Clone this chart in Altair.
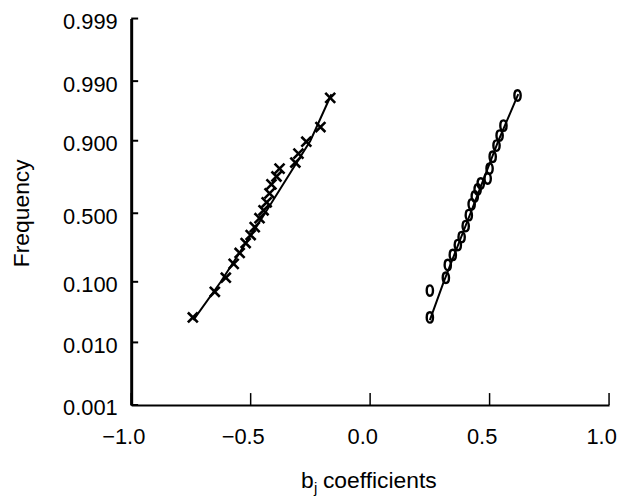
import altair as alt
import pandas as pd
from statistics import NormalDist

probit = NormalDist().inv_cdf

# ---- axis definitions -------------------------------------------------
tick_freq = [0.001, 0.010, 0.100, 0.500, 0.900, 0.990, 0.999]
tick_labels = ["0.001", "0.010", "0.100", "0.500", "0.900", "0.990", "0.999"]
tick_range = [389, 326, 265, 196, 123, 63, 0]   # probability-paper spacing of the ticks
x_ticks = [-1.0, -0.5, 0.0, 0.5, 1.0]
y_title = "Frequency"
x_title_parts = ["b", "j", "coefficients"]

# ---- data -------------------------------------------------------------
left_x = [-0.742, -0.650, -0.604, -0.571, -0.546, -0.521, -0.500, -0.483, -0.463, -0.446,
          -0.433, -0.421, -0.413, -0.392, -0.379, -0.313, -0.300, -0.267, -0.208, -0.167]
left_f = [0.029, 0.073, 0.114, 0.172, 0.229, 0.289, 0.342, 0.398, 0.463, 0.521,
          0.577, 0.637, 0.695, 0.742, 0.785, 0.815, 0.854, 0.897, 0.936, 0.979]

right_x = [0.250, 0.250, 0.317, 0.325, 0.346, 0.367, 0.383, 0.400, 0.413, 0.425,
           0.438, 0.450, 0.463, 0.492, 0.500, 0.513, 0.529, 0.542, 0.558, 0.617]
right_f = [0.029, 0.076, 0.114, 0.167, 0.218, 0.276, 0.328, 0.405, 0.486, 0.563,
           0.617, 0.663, 0.701, 0.730, 0.785, 0.841, 0.884, 0.915, 0.939, 0.981]

line_f = [0.026, 0.100, 0.500, 0.900, 0.982]
left_line_x = [-0.740, -0.625, -0.440, -0.250, -0.162]
right_line_x = [0.250, 0.308, 0.420, 0.537, 0.620]

# ---- tables -------------------------------------------------------------
left_pts = pd.DataFrame({"x": left_x, "z": [probit(f) for f in left_f]})
right_pts = pd.DataFrame({"x": right_x, "z": [probit(f) for f in right_f]})
left_line = pd.DataFrame({"x": left_line_x, "z": [probit(f) for f in line_f], "o": range(len(line_f))})
right_line = pd.DataFrame({"x": right_line_x, "z": [probit(f) for f in line_f], "o": range(len(line_f))})
ytick_df = pd.DataFrame({"z": [probit(f) for f in tick_freq]})
xtick_df = pd.DataFrame({"x": x_ticks})

zt = [probit(f) for f in tick_freq]
expr = ""
for i in range(len(zt) - 1):
    mid = (zt[i] + zt[i + 1]) / 2
    expr += f"datum.value < {mid:.4f} ? '{tick_labels[i]}' : "
expr += f"'{tick_labels[-1]}'"

FONT = "Liberation Sans"

xscale = alt.Scale(domain=[-1.0, 1.0], nice=False, zero=False)
yscale = alt.Scale(domain=zt, range=tick_range, nice=False, zero=False)

xaxis = alt.Axis(values=x_ticks, format=".1f", ticks=False, grid=False,
                 domainColor="black", domainWidth=2.2, labelColor="black",
                 labelFont=FONT, labelFontSize=22, labelPadding=22, labelOffset=-8,
                 labelFlush=False, labelOverlap=False)
yaxis = alt.Axis(values=zt, labelExpr=expr, ticks=False, grid=False,
                 domainColor="black", domainWidth=3, labelColor="black",
                 labelFont=FONT, labelFontSize=22, labelPadding=14, labelOffset=3,
                 labelFlush=False, labelOverlap=False)

X = alt.X("x:Q", scale=xscale, axis=xaxis, title=None)
Y = alt.Y("z:Q", scale=yscale, axis=yaxis, title=None)

lines = [
    alt.Chart(df).mark_line(color="black", strokeWidth=2).encode(x=X, y=Y, order="o:Q")
    for df in (left_line, right_line)
]

x_pts = alt.Chart(left_pts).mark_point(
    shape="M-1,-1L1,1M-1,1L1,-1", filled=False, size=100, color="black",
    strokeWidth=2.6, opacity=1).encode(x=X, y=Y)

o_pts = alt.Chart(right_pts).mark_point(
    shape="M0,-1C0.8,-1 0.8,1 0,1C-0.8,1 -0.8,-1 0,-1Z", filled=False, size=110,
    color="black", strokeWidth=2.4, opacity=1).encode(x=X, y=Y)

yticks = alt.Chart(ytick_df).mark_rule(color="black", strokeWidth=2).encode(
    y=Y, x=alt.value(0), x2=alt.value(7))
xticks = alt.Chart(xtick_df).mark_rule(color="black", strokeWidth=1.5).encode(
    x=X, y=alt.value(377), y2=alt.value(389))

ytitle = alt.Chart(pd.DataFrame({"t": [y_title]})).mark_text(
    font=FONT, fontSize=23, angle=270, align="center", baseline="middle", color="black"
).encode(text="t:N", x=alt.value(-110), y=alt.value(196))

xt_b = alt.Chart(pd.DataFrame({"t": [x_title_parts[0]]})).mark_text(
    font=FONT, fontSize=23, align="left", baseline="alphabetic", color="black"
).encode(text="t:N", x=alt.value(171), y=alt.value(473))
xt_j = alt.Chart(pd.DataFrame({"t": [x_title_parts[1]]})).mark_text(
    font=FONT, fontSize=15, align="left", baseline="alphabetic", color="black"
).encode(text="t:N", x=alt.value(184), y=alt.value(478))
xt_c = alt.Chart(pd.DataFrame({"t": [x_title_parts[2]]})).mark_text(
    font=FONT, fontSize=23, align="left", baseline="alphabetic", color="black"
).encode(text="t:N", x=alt.value(193), y=alt.value(473))

chart = alt.layer(
    *lines, x_pts, o_pts, yticks, xticks, ytitle, xt_b, xt_j, xt_c
).properties(
    width=481, height=389,
    autosize=alt.AutoSizeParams(type="none"),
    padding={"left": 124, "top": 9, "right": 8, "bottom": 92},
    background="white",
).configure_view(strokeWidth=0)

chart.save("out.html", embed_options={"renderer": "svg", "actions": False})
